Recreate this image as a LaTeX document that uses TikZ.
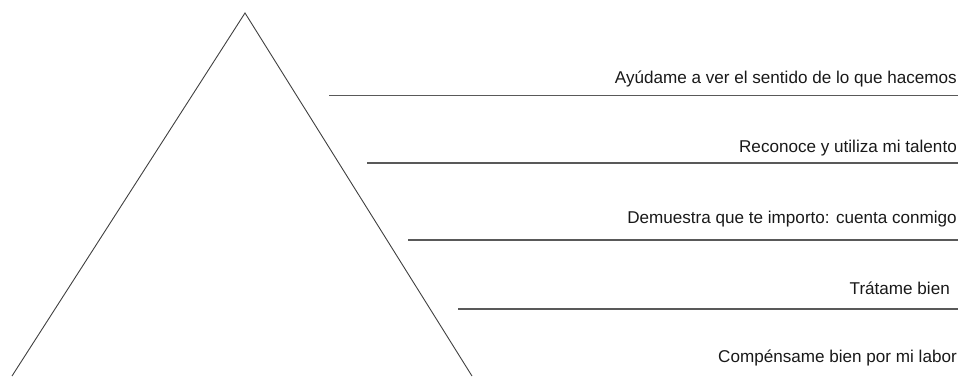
\documentclass[tikz,border=0pt]{standalone}
\usepackage{fontspec}
\setmainfont{Liberation Sans}
\begin{document}
\begin{tikzpicture}[x=1pt,y=-1pt,
  edge/.style={draw=black!75,line width=0.9pt},
  rule/.style={draw=black!65,line width=1.4pt},
  lbl/.style={anchor=base east,inner sep=0pt,font=\fontsize{17.1}{19}\selectfont,text=black!90}]
\useasboundingbox (0,0) rectangle (967,376);
\coordinate (apex) at (245,13);
\coordinate (bl) at (12,376);
\coordinate (br) at (472,376);
\draw[edge] (bl) -- (apex) -- (br);
\coordinate (a1) at (329,95.5);  \coordinate (b1) at (958,95.5);
\coordinate (a2) at (367,163); \coordinate (b2) at (958,163);
\coordinate (a3) at (408,240); \coordinate (b3) at (958,240);
\coordinate (a4) at (458,309); \coordinate (b4) at (958,309);
\draw[rule] (a1) -- (b1);
\draw[rule] (a2) -- (b2);
\draw[rule] (a3) -- (b3);
\draw[rule] (a4) -- (b4);
\node[lbl] (t1) at (957,83.5) {Ayúdame a ver el sentido de lo que hacemos};
\node[lbl] (t2) at (957,152.5) {Reconoce y utiliza mi talento};
\node[lbl] (t3) at (957,223.5) {Demuestra que te importo: cuenta conmigo};
\node[lbl] (t4) at (950,294.5) {Trátame bien};
\node[lbl] (t5) at (957,362.5) {Compénsame bien por mi labor};
\end{tikzpicture}
\end{document}
